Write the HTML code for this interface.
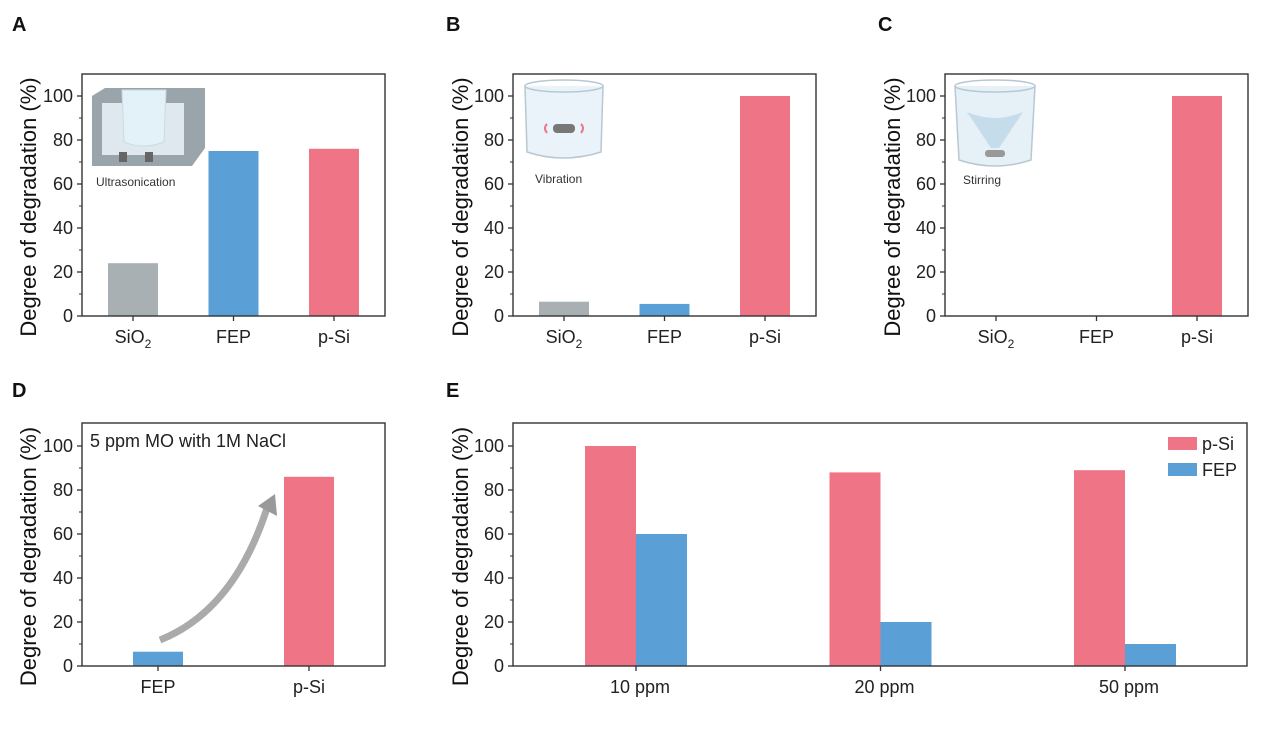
<!DOCTYPE html>
<html><head><meta charset="utf-8">
<style>
html,body{margin:0;padding:0;background:#fff;}
svg{display:block;font-family:"Liberation Sans",Arial,sans-serif;}
</style></head>
<body>
<svg id="fig" width="1269" height="742" viewBox="0 0 1269 742">
</svg>
<script>
// Data
const catsABC = ["SiO2","FEP","p-Si"];
const valsA = [24, 75, 76];
const valsB = [6.5, 5.5, 100];
const valsC = [0, 0, 100];
const catsD = ["FEP","p-Si"];
const valsD = [6.5, 86];
const catsE = ["10 ppm","20 ppm","50 ppm"];
const valsEpSi = [100, 88, 89];
const valsEFEP = [60, 20, 10];
const yTicks = [0, 20, 40, 60, 80, 100];

const NS="http://www.w3.org/2000/svg";
const svg=document.getElementById('fig');
const COL={grey:"#a9b0b3",blue:"#5a9fd6",pink:"#ef7586"};
function el(tag,attrs,parent){const e=document.createElementNS(NS,tag);for(const k in attrs)e.setAttribute(k,attrs[k]);(parent||svg).appendChild(e);return e;}

function panel(opt){
  const g=el('g',{});
  
  
  const x0=opt.x0,x1=opt.x1,yTop=opt.yTop,yZero=opt.yZero;
  const ys=v=>yZero-v*2.2;
  const L=el('text',{x:opt.lx,y:opt.ly,'font-size':20,'font-weight':'bold',fill:'#111'},g);
  L.textContent=opt.letter;
  
  
  yTicks.forEach(t=>{
    const y=ys(t);
    el('line',{x1:x0-5,x2:x0,y1:y,y2:y,stroke:'#333','stroke-width':1.3},g);
    const tx=el('text',{x:x0-9,y:y+6,'font-size':18,'text-anchor':'end',fill:'#222'},g);
    tx.textContent=t;
    
    
    if(t<100){el('line',{x1:x0-3,x2:x0,y1:ys(t+10),y2:ys(t+10),stroke:'#333','stroke-width':1},g);}
  });
  const yt=el('text',{x:0,y:0,'font-size':22,'text-anchor':'middle',fill:'#111',transform:`translate(${opt.ytx},${(yTop+yZero)/2+12}) rotate(-90)`},g);
  yt.textContent="Degree of degradation (%)";
  
  
  opt.draw(g,ys);
  const fr=el('rect',{x:x0,y:yTop,width:x1-x0,height:yZero-yTop,fill:'none',stroke:'#333','stroke-width':1.4},g);
  
  
  return g;
}

function catLabel(g,x,y,name){
  const t=el('text',{x:x,y:y,'font-size':18,'text-anchor':'middle',fill:'#222'},g);
  if(name==="SiO2"){t.textContent="SiO";const s=el('tspan',{'font-size':12,dy:5},t);s.textContent="2";}
  else t.textContent=name;
  
  
}

function simplePanel(letter,x0,vals,lx,ytx,inset){
  const colors=[COL.grey,COL.blue,COL.pink];
  panel({name:'panel-'+letter.toLowerCase(),letter,x0,x1:x0+303,yTop:74,yZero:316,lx,ly:31,ytx,
    draw:(g,ys)=>{
      vals.forEach((v,i)=>{
        const cx=x0+51+i*100.5;
        const r=el('rect',{x:cx-25,y:ys(v),width:50,height:316-ys(v),fill:colors[i]},g);
        
        
        el('line',{x1:cx,x2:cx,y1:316,y2:321,stroke:'#333','stroke-width':1.3},g);
        catLabel(g,cx,343,catsABC[i]);
      });
      inset(g,x0);
    }});
}

function insetA(g,x0){
  const ig=el('g',{},g);
  el('polygon',{points:`${x0+10},96 ${x0+23},88 ${x0+123},88 ${x0+123},148 ${x0+110},166 ${x0+10},166`,fill:'#9aa4ab'},ig);
  el('rect',{x:x0+20,y:103,width:82,height:52,fill:'#dfe8ee'},ig);
  el('path',{d:`M${x0+40} 90 L${x0+42} 142 Q${x0+62} 150 ${x0+82} 142 L${x0+84} 90 Z`,fill:'#e3f1f8',stroke:'#c9dbe4'},ig);
  el('rect',{x:x0+37,y:152,width:8,height:10,fill:'#666'},ig);
  el('rect',{x:x0+63,y:152,width:8,height:10,fill:'#666'},ig);
  const t=el('text',{x:x0+14,y:186,'font-size':12,fill:'#333'},ig);t.textContent="Ultrasonication";
}
function insetB(g,x0){
  const ig=el('g',{},g);
  el('path',{d:`M${x0+12} 86 L${x0+14} 152 Q${x0+50} 164 ${x0+88} 152 L${x0+90} 86`,fill:'#eaf3f9',stroke:'#b8c8d2','stroke-width':1.5},ig);
  el('ellipse',{cx:x0+51,cy:86,rx:39,ry:6,fill:'none',stroke:'#b8c8d2','stroke-width':1.5},ig);
  el('rect',{x:x0+40,y:124,width:22,height:9,rx:4,fill:'#777'},ig);
  el('path',{d:`M${x0+34} 124 q-4 4 0 9 M${x0+68} 124 q4 4 0 9`,stroke:'#e8788a',fill:'none','stroke-width':2},ig);
  const t=el('text',{x:x0+22,y:183,'font-size':12,fill:'#333'},ig);t.textContent="Vibration";
}
function insetC(g,x0){
  const ig=el('g',{},g);
  el('path',{d:`M${x0+10} 86 L${x0+14} 160 Q${x0+50} 172 ${x0+86} 160 L${x0+90} 86`,fill:'#e6f0f7',stroke:'#b8c8d2','stroke-width':1.5},ig);
  el('ellipse',{cx:x0+50,cy:86,rx:40,ry:6,fill:'none',stroke:'#b8c8d2','stroke-width':1.5},ig);
  el('path',{d:`M${x0+22} 112 Q${x0+50} 124 ${x0+78} 112 L${x0+54} 148 L${x0+46} 148 Z`,fill:'#c5dcea'},ig);
  el('rect',{x:x0+40,y:150,width:20,height:7,rx:3,fill:'#999'},ig);
  const t=el('text',{x:x0+18,y:184,'font-size':12,fill:'#333'},ig);t.textContent="Stirring";
}

simplePanel('A',82,valsA,12,36,insetA);
simplePanel('B',513,valsB,446,468,insetB);
simplePanel('C',945,valsC,878,900,insetC);

panel({name:'panel-d',letter:'D',x0:82,x1:385,yTop:423,yZero:666,lx:12,ly:397,ytx:36,
  draw:(g,ys)=>{
    const cols=[COL.blue,COL.pink];
    valsD.forEach((v,i)=>{
      const cx=82+76+i*151;
      const r=el('rect',{x:cx-25,y:ys(v),width:50,height:666-ys(v),fill:cols[i]},g);
      
      
      el('line',{x1:cx,x2:cx,y1:666,y2:671,stroke:'#333','stroke-width':1.3},g);
      catLabel(g,cx,693,catsD[i]);
    });
    const ar=el('path',{d:'M160 640 Q235 610 268 505',stroke:'#aaa','stroke-width':7,fill:'none'},g);
    
    el('polygon',{points:'258,506 275,494 277,516',fill:'#999'},g);
    const t=el('text',{x:90,y:447,'font-size':18,fill:'#222'},g);
    t.textContent="5 ppm MO with 1M NaCl";
    
  }});

panel({name:'panel-e',letter:'E',x0:513,x1:1247,yTop:423,yZero:666,lx:446,ly:397,ytx:468,
  draw:(g,ys)=>{
    catsE.forEach((c,i)=>{
      const cx=636+i*244.5;
      const r1=el('rect',{x:cx-51,y:ys(valsEpSi[i]),width:51,height:666-ys(valsEpSi[i]),fill:COL.pink},g);
      
      
      const r2=el('rect',{x:cx,y:ys(valsEFEP[i]),width:51,height:666-ys(valsEFEP[i]),fill:COL.blue},g);
      
      
      el('line',{x1:cx,x2:cx,y1:666,y2:671,stroke:'#333','stroke-width':1.3},g);
      catLabel(g,cx+4,693,c);
    });
    const lg=el('g',{},g);
    
    el('rect',{x:1168,y:437,width:29,height:13,fill:COL.pink},lg);
    el('rect',{x:1168,y:463,width:29,height:13,fill:COL.blue},lg);
    const t1=el('text',{x:1202,y:450,'font-size':18,fill:'#222'},lg);t1.textContent="p-Si";
    const t2=el('text',{x:1202,y:476,'font-size':18,fill:'#222'},lg);t2.textContent="FEP";
  }});
</script>
</body></html>
